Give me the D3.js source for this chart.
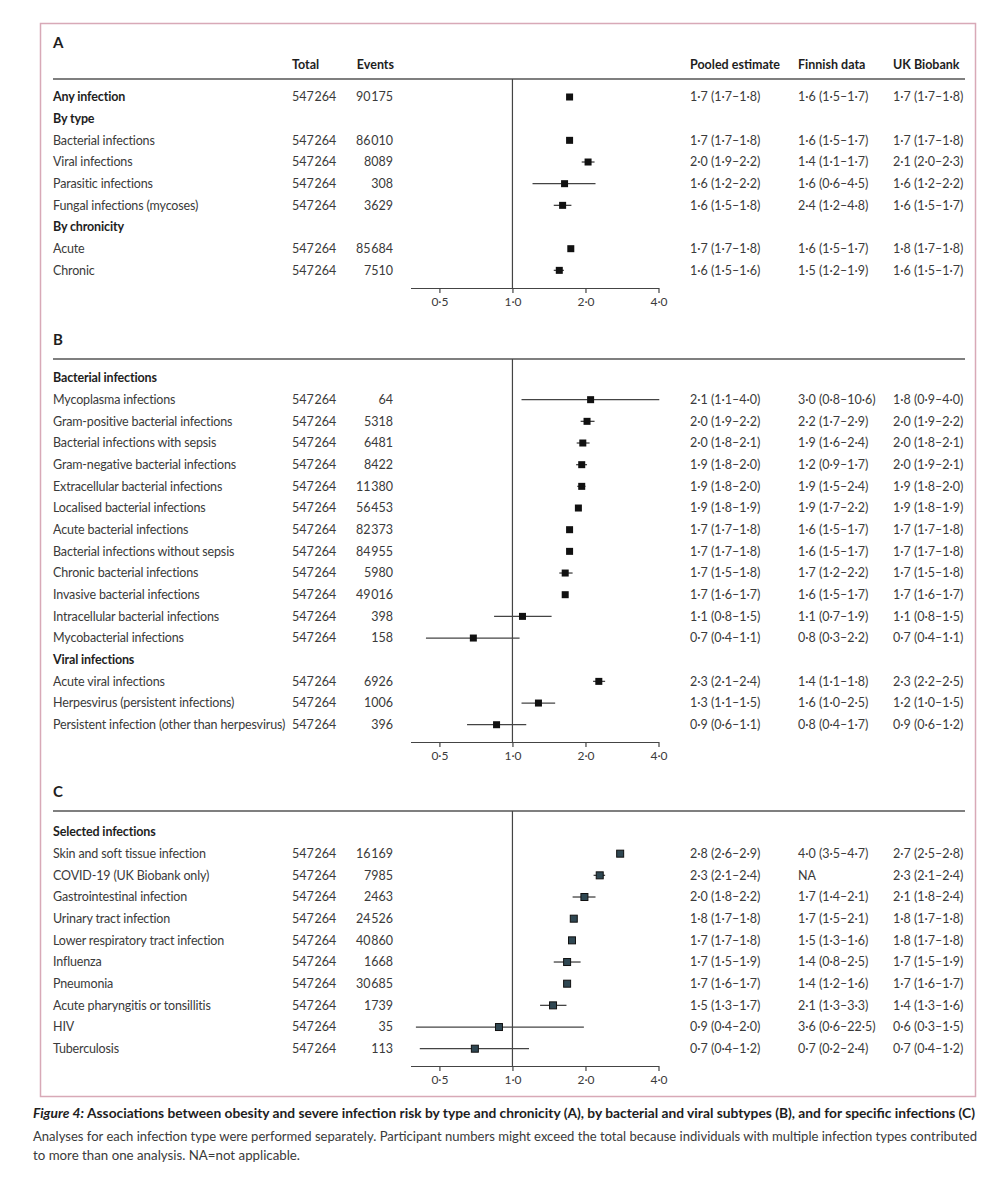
<!DOCTYPE html>
<html>
<head>
  <meta charset="utf-8">
  <title>Obesity and severe infection risk</title>
  <style>
    body{
      margin: 0;
      background: white;
    }
    text{
      font-family: Lato, "Open Sans", sans-serif;
    }
  </style>
  <script src="https://d3js.org/d3.v7.min.js"></script>
</head>
<body>
  <div id="container"></div>

  <script>
    //*******DATA*******
    // panel A - by type and chronicity
    const aLabels = ["Any infection", "By type", "Bacterial infections", "Viral infections", "Parasitic infections",
      "Fungal infections (mycoses)", "By chronicity", "Acute", "Chronic"];
    const aBold = [true, true, false, false, false, false, true, false, false];
    const aTotal = ["547 264", null, "547 264", "547 264", "547 264", "547 264", null, "547 264", "547 264"];
    const aEvents = ["90 175", null, "86 010", "8089", "308", "3629", null, "85 684", "7510"];
    const aEst = [1.72, null, 1.72, 2.05, 1.64, 1.61, null, 1.74, 1.56];
    const aLo = [1.69, null, 1.69, 1.93, 1.21, 1.48, null, 1.71, 1.48];
    const aHi = [1.76, null, 1.75, 2.18, 2.2, 1.75, null, 1.77, 1.63];
    const aPooled = ["1·7 (1·7–1·8)", null, "1·7 (1·7–1·8)", "2·0 (1·9–2·2)", "1·6 (1·2–2·2)", "1·6 (1·5–1·8)", null, "1·7 (1·7–1·8)", "1·6 (1·5–1·6)"];
    const aFinnish = ["1·6 (1·5–1·7)", null, "1·6 (1·5–1·7)", "1·4 (1·1–1·7)", "1·6 (0·6–4·5)", "2·4 (1·2–4·8)", null, "1·6 (1·5–1·7)", "1·5 (1·2–1·9)"];
    const aUkb = ["1·7 (1·7–1·8)", null, "1·7 (1·7–1·8)", "2·1 (2·0–2·3)", "1·6 (1·2–2·2)", "1·6 (1·5–1·7)", null, "1·8 (1·7–1·8)", "1·6 (1·5–1·7)"];

    // panel B - bacterial and viral subtypes
    const bLabels = ["Bacterial infections", "Mycoplasma infections", "Gram-positive bacterial infections",
      "Bacterial infections with sepsis", "Gram-negative bacterial infections", "Extracellular bacterial infections",
      "Localised bacterial infections", "Acute bacterial infections", "Bacterial infections without sepsis",
      "Chronic bacterial infections", "Invasive bacterial infections", "Intracellular bacterial infections",
      "Mycobacterial infections", "Viral infections", "Acute viral infections", "Herpesvirus (persistent infections)",
      "Persistent infection (other than herpesvirus)"];
    const bBold = [true, false, false, false, false, false, false, false, false, false, false, false, false, true, false, false, false];
    const bTotal = [null, "547 264", "547 264", "547 264", "547 264", "547 264", "547 264", "547 264", "547 264",
      "547 264", "547 264", "547 264", "547 264", null, "547 264", "547 264", "547 264"];
    const bEvents = [null, "64", "5318", "6481", "8422", "11 380", "56 453", "82 373", "84 955", "5980", "49 016",
      "398", "158", null, "6926", "1006", "396"];
    const bEst = [null, 2.10, 2.03, 1.95, 1.93, 1.93, 1.87, 1.72, 1.72, 1.65, 1.65, 1.10, 0.69, null, 2.27, 1.28, 0.86];
    const bLo = [null, 1.09, 1.91, 1.84, 1.83, 1.85, 1.83, 1.69, 1.69, 1.56, 1.62, 0.84, 0.44, null, 2.15, 1.09, 0.65];
    const bHi = [null, 4.03, 2.18, 2.08, 2.03, 2.00, 1.91, 1.76, 1.75, 1.77, 1.69, 1.45, 1.07, null, 2.41, 1.50, 1.14];
    const bPooled = [null, "2·1 (1·1–4·0)", "2·0 (1·9–2·2)", "2·0 (1·8–2·1)", "1·9 (1·8–2·0)", "1·9 (1·8–2·0)",
      "1·9 (1·8–1·9)", "1·7 (1·7–1·8)", "1·7 (1·7–1·8)", "1·7 (1·5–1·8)", "1·7 (1·6–1·7)", "1·1 (0·8–1·5)",
      "0·7 (0·4–1·1)", null, "2·3 (2·1–2·4)", "1·3 (1·1–1·5)", "0·9 (0·6–1·1)"];
    const bFinnish = [null, "3·0 (0·8–10·6)", "2·2 (1·7–2·9)", "1·9 (1·6–2·4)", "1·2 (0·9–1·7)", "1·9 (1·5–2·4)",
      "1·9 (1·7–2·2)", "1·6 (1·5–1·7)", "1·6 (1·5–1·7)", "1·7 (1·2–2·2)", "1·6 (1·5–1·7)", "1·1 (0·7–1·9)",
      "0·8 (0·3–2·2)", null, "1·4 (1·1–1·8)", "1·6 (1·0–2·5)", "0·8 (0·4–1·7)"];
    const bUkb = [null, "1·8 (0·9–4·0)", "2·0 (1·9–2·2)", "2·0 (1·8–2·1)", "2·0 (1·9–2·1)", "1·9 (1·8–2·0)",
      "1·9 (1·8–1·9)", "1·7 (1·7–1·8)", "1·7 (1·7–1·8)", "1·7 (1·5–1·8)", "1·7 (1·6–1·7)", "1·1 (0·8–1·5)",
      "0·7 (0·4–1·1)", null, "2·3 (2·2–2·5)", "1·2 (1·0–1·5)", "0·9 (0·6–1·2)"];

    // panel C - specific infections
    const cLabels = ["Selected infections", "Skin and soft tissue infection", "COVID-19 (UK Biobank only)",
      "Gastrointestinal infection", "Urinary tract infection", "Lower respiratory tract infection", "Influenza",
      "Pneumonia", "Acute pharyngitis or tonsillitis", "HIV", "Tuberculosis"];
    const cBold = [true, false, false, false, false, false, false, false, false, false, false];
    const cTotal = [null, "547 264", "547 264", "547 264", "547 264", "547 264", "547 264", "547 264", "547 264", "547 264", "547 264"];
    const cEvents = [null, "16 169", "7985", "2463", "24 526", "40 860", "1668", "30 685", "1739", "35", "113"];
    const cEst = [null, 2.78, 2.29, 1.98, 1.79, 1.76, 1.68, 1.68, 1.47, 0.88, 0.70];
    const cLo = [null, 2.70, 2.16, 1.77, 1.74, 1.72, 1.48, 1.64, 1.30, 0.40, 0.415];
    const cHi = [null, 2.87, 2.41, 2.20, 1.84, 1.80, 1.91, 1.72, 1.67, 1.97, 1.17];
    const cPooled = [null, "2·8 (2·6–2·9)", "2·3 (2·1–2·4)", "2·0 (1·8–2·2)", "1·8 (1·7–1·8)", "1·7 (1·7–1·8)",
      "1·7 (1·5–1·9)", "1·7 (1·6–1·7)", "1·5 (1·3–1·7)", "0·9 (0·4–2·0)", "0·7 (0·4–1·2)"];
    const cFinnish = [null, "4·0 (3·5–4·7)", "NA", "1·7 (1·4–2·1)", "1·7 (1·5–2·1)", "1·5 (1·3–1·6)",
      "1·4 (0·8–2·5)", "1·4 (1·2–1·6)", "2·1 (1·3–3·3)", "3·6 (0·6–22·5)", "0·7 (0·2–2·4)"];
    const cUkb = [null, "2·7 (2·5–2·8)", "2·3 (2·1–2·4)", "2·1 (1·8–2·4)", "1·8 (1·7–1·8)", "1·8 (1·7–1·8)",
      "1·7 (1·5–1·9)", "1·7 (1·6–1·7)", "1·4 (1·3–1·6)", "0·6 (0·3–1·5)", "0·7 (0·4–1·2)"];

    const tickValues = [0.5, 1, 2, 4];
    const columnHeads = ["Total", "Events", "Pooled estimate", "Finnish data", "UK Biobank"];

    //*******CONSTANTS*******
    const width = 1003,
          height = 1200;
    const rowStep = 21.67;
    const col = {label: 53, total: 292, events: 393, pooled: 690, finnish: 798, ukb: 893};
    const ruleRight = 965;
    const textColor = "#3a3a3a",
          darkText = "#1e1e1e",
          lineColor = "#444";

    //*******SVG*******
    var svg = d3.select("#container")
      .append("svg")
      .attr("width", width)
      .attr("height", height)
      .style("display", "block");

    svg.append("rect")
      .attr("width", width)
      .attr("height", height)
      .attr("fill", "white");

    // pink frame round the figure
    svg.append("rect")
      .attr("x", 40.5)
      .attr("y", 23.5)
      .attr("width", 935)
      .attr("height", 1073)
      .attr("fill", "none")
      .attr("stroke", "#d8a9b7")
      .attr("stroke-width", 1.5);

    // log scale shared by all three panels
    var x = d3.scaleLog().base(2)
      .domain([0.38, 4])
      .range([410.5, 658.5]);

    var fmtTick = function(d){ return d3.format(".1f")(d).replace(".", "·"); };

    // thousands are split by a hair space, as in the journal
    var num = function(s){ return s == null ? null : s.replace(" ", "\u200A"); };

    // draws one panel of the forest plot
    function drawPanel(opt){
      var g = svg.append("g");
      var n = opt.labels.length;
      var y = function(i){ return opt.firstRow + i * rowStep; };

      g.append("text")
        .attr("x", col.label)
        .attr("y", opt.letterY)
        .attr("dy", "0.35em")
        .attr("font-size", 15)
        .attr("font-weight", "bold")
        .attr("fill", darkText)
        .text(opt.letter);

      if (opt.heads){
        var hx = [col.total, col.events + 1, col.pooled, col.finnish, col.ukb];
        var anchors = ["start", "end", "start", "start", "start"];
        g.selectAll(".head")
          .data(columnHeads)
          .enter()
          .append("text")
          .attr("x", function(d, i){ return hx[i]; })
          .attr("y", opt.headY)
          .attr("dy", "0.35em")
          .attr("text-anchor", function(d, i){ return anchors[i]; })
          .attr("font-size", 12.5)
          .attr("font-weight", "bold")
          .attr("fill", darkText)
          .text(function(d){ return d; });
      }

      // rule under the heading
      g.append("line")
        .attr("x1", col.label)
        .attr("x2", ruleRight)
        .attr("y1", opt.ruleY)
        .attr("y2", opt.ruleY)
        .attr("stroke", "#555")
        .attr("stroke-width", 1.3);

      // line of no effect
      g.append("line")
        .attr("x1", x(1))
        .attr("x2", x(1))
        .attr("y1", opt.ruleY)
        .attr("y2", opt.axisY)
        .attr("stroke", lineColor)
        .attr("stroke-width", 1.2);

      var axis = d3.axisBottom(x)
        .tickValues(tickValues)
        .tickFormat(fmtTick)
        .tickSize(5)
        .tickSizeOuter(0);

      var ax = g.append("g")
        .attr("transform", "translate(0," + opt.axisY + ")")
        .call(axis);
      ax.select(".domain").attr("stroke", lineColor).attr("stroke-width", 1.2);
      ax.selectAll(".tick line").attr("stroke", lineColor).attr("stroke-width", 1.2);
      ax.selectAll(".tick text")
        .attr("y", 9)
        .attr("font-family", "Lato, sans-serif")
        .attr("font-size", 12)
        .attr("fill", textColor);

      var idx = d3.range(n);

      g.selectAll(".lab")
        .data(idx)
        .enter()
        .append("text")
        .attr("x", col.label)
        .attr("y", function(i){ return y(i); })
        .attr("dy", "0.35em")
        .attr("font-size", 12.5)
        .attr("letter-spacing", -0.15)
        .attr("font-weight", function(i){ return opt.bold[i] ? "bold" : "normal"; })
        .attr("fill", function(i){ return opt.bold[i] ? darkText : textColor; })
        .text(function(i){ return opt.labels[i]; });

      var cols = [
        {vals: opt.total.map(num), x: col.total, anchor: "start"},
        {vals: opt.events.map(num), x: col.events, anchor: "end"},
        {vals: opt.pooled, x: col.pooled, anchor: "start"},
        {vals: opt.finnish, x: col.finnish, anchor: "start"},
        {vals: opt.ukb, x: col.ukb, anchor: "start"}
      ];
      cols.forEach(function(c){
        g.selectAll(null)
          .data(idx.filter(function(i){ return c.vals[i] != null; }))
          .enter()
          .append("text")
          .attr("x", c.x)
          .attr("y", function(i){ return y(i); })
          .attr("dy", "0.35em")
          .attr("text-anchor", c.anchor)
          .attr("font-size", 12.5)
          .attr("fill", textColor)
          .text(function(i){ return c.vals[i]; });
      });

      var rows = idx.filter(function(i){ return opt.est[i] != null; });

      // confidence intervals
      g.selectAll(".ci")
        .data(rows)
        .enter()
        .append("line")
        .attr("x1", function(i){ return x(opt.lo[i]); })
        .attr("x2", function(i){ return x(opt.hi[i]); })
        .attr("y1", function(i){ return y(i); })
        .attr("y2", function(i){ return y(i); })
        .attr("stroke", lineColor)
        .attr("stroke-width", 1.3);

      // point estimates
      var s = 7;
      g.selectAll(".pt")
        .data(rows)
        .enter()
        .append("rect")
        .attr("x", function(i){ return x(opt.est[i]) - s / 2; })
        .attr("y", function(i){ return y(i) - s / 2; })
        .attr("width", s)
        .attr("height", s)
        .attr("fill", opt.markerFill)
        .attr("stroke", "#111")
        .attr("stroke-width", opt.markerStroke);
    }

    drawPanel({letter: "A", letterY: 43, heads: true, headY: 65, ruleY: 79, firstRow: 97, axisY: 288,
      labels: aLabels, bold: aBold, total: aTotal, events: aEvents, est: aEst, lo: aLo, hi: aHi,
      pooled: aPooled, finnish: aFinnish, ukb: aUkb, markerFill: "#111", markerStroke: 0});

    drawPanel({letter: "B", letterY: 340, heads: false, ruleY: 359, firstRow: 378, axisY: 742,
      labels: bLabels, bold: bBold, total: bTotal, events: bEvents, est: bEst, lo: bLo, hi: bHi,
      pooled: bPooled, finnish: bFinnish, ukb: bUkb, markerFill: "#111", markerStroke: 0});

    drawPanel({letter: "C", letterY: 792, heads: false, ruleY: 811, firstRow: 832, axisY: 1066,
      labels: cLabels, bold: cBold, total: cTotal, events: cEvents, est: cEst, lo: cLo, hi: cHi,
      pooled: cPooled, finnish: cFinnish, ukb: cUkb, markerFill: "#2f4752", markerStroke: 1});

    //*******CAPTION*******
    var cap1 = svg.append("text")
      .attr("x", 33)
      .attr("y", 1118)
      .attr("font-size", 13)
      .attr("font-weight", "bold")
      .attr("fill", "#1e1e1e")
      .attr("textLength", 942)
      .attr("lengthAdjust", "spacingAndGlyphs");
    cap1.append("tspan").attr("font-style", "italic").text("Figure 4: ");
    cap1.append("tspan").text("Associations between obesity and severe infection risk by type and chronicity (A), by bacterial and viral subtypes (B), and for specific infections (C)");

    svg.append("text")
      .attr("x", 33)
      .attr("y", 1141)
      .attr("font-size", 13)
      .attr("fill", textColor)
      .attr("textLength", 944)
      .attr("lengthAdjust", "spacingAndGlyphs")
      .text("Analyses for each infection type were performed separately. Participant numbers might exceed the total because individuals with multiple infection types contributed");

    svg.append("text")
      .attr("x", 33)
      .attr("y", 1160)
      .attr("font-size", 13)
      .attr("fill", textColor)
      .attr("textLength", 267)
      .attr("lengthAdjust", "spacingAndGlyphs")
      .text("to more than one analysis. NA=not applicable.");
  </script>
</body>
</html>
